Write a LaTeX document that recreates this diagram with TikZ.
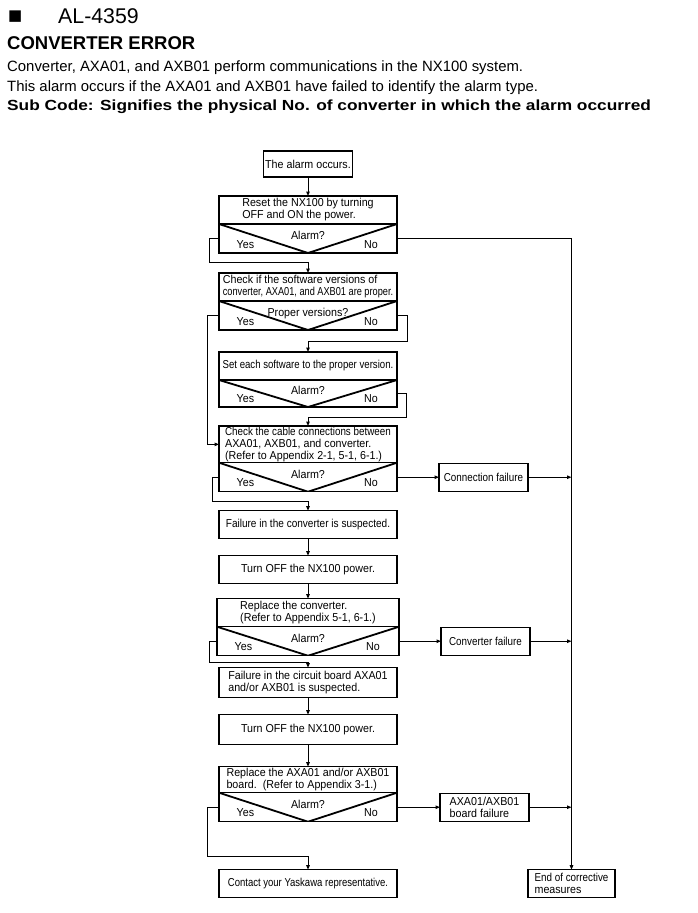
\documentclass[tikz,border=0pt]{standalone}
\usepackage{fontspec}
\usepackage{graphicx}
\setmainfont{Liberation Sans}
\newfontfamily\flowfont[FakeStretch=0.93]{Liberation Sans}
\newfontfamily\widefont[FakeStretch=1.18]{Liberation Sans}
\newfontfamily\symfont{DejaVu Sans}
\usetikzlibrary{arrows.meta, positioning}
\newcommand{\flowsize}{\flowfont\fontsize{11.5}{12}\selectfont}
\newcommand{\squeeze}[2]{\scalebox{#1}[1]{#2}}

\begin{document}
\begin{tikzpicture}[x=1pt, y=-1pt, node distance=19pt]
    % Styles
    \tikzstyle{stepbox} = [rectangle, draw=black, line width=1.1pt, outer sep=0pt, minimum width=178pt, minimum height=28pt, inner xsep=1.5pt, inner ysep=1pt, align=left, font=\flowsize]
    \tikzstyle{yesno} = [font=\flowsize, inner sep=0pt]
    \tikzstyle{query} = [stepbox, minimum height=29pt, text depth=6pt,
        path picture={\draw[line width=1.8pt] (path picture bounding box.north west) -- (path picture bounding box.south) -- (path picture bounding box.north east);},
        label={[yesno, anchor=base west, xshift=17.5pt, yshift=5pt]south west:Yes},
        label={[yesno, anchor=base east, xshift=-19pt, yshift=5pt]south east:No}]
    \tikzstyle{sidebox} = [rectangle, draw=black, line width=1.1pt, outer sep=0pt, minimum width=89pt, minimum height=28pt, inner xsep=2pt, inner ysep=1pt, align=left, font=\flowsize]
    \tikzstyle{headline} = [anchor=base west, inner sep=0pt]
    \tikzstyle{arrow} = [line width=1pt, ->, >={Triangle[length=4.5pt, width=3.5pt]}]

    \useasboundingbox (0,0) rectangle (697,913);

    % Header
    \node (bullet) [headline, font=\symfont\fontsize{15}{15}\selectfont] at (8,20) {■};
    \node (alarmno) [headline, font=\fontsize{21.3}{24}\selectfont] at (58,23) {AL-4359};
    \node (title) [headline, font=\bfseries\fontsize{18.5}{20}\selectfont] at (7,49.5) {CONVERTER ERROR};
    \node (desc1) [headline, font=\fontsize{14.9}{16}\selectfont] at (7,71) {Converter, AXA01, and AXB01 perform communications in the NX100 system.};
    \node (desc2) [headline, font=\fontsize{14.9}{16}\selectfont] at (7,91) {This alarm occurs if the AXA01 and AXB01 have failed to identify the alarm type.};
    \node (subcode) [headline, font=\widefont\bfseries\fontsize{14.67}{16}\selectfont] at (7,110.5) {Sub Code: Signifies the physical No. of converter in which the alarm occurred};

    % Nodes
    \node (start) [stepbox, minimum width=88pt, minimum height=26pt] at (308,164) {The alarm occurs.};
    \node (reset) [stepbox, below=of start] {Reset the NX100 by turning\\OFF and ON the power.};
    \node (resetq) [query, below=0pt of reset] {Alarm?};
    \node (checksw) [stepbox, below=20pt of resetq] {Check if the software versions of\\\squeeze{0.86}{converter, AXA01, and AXB01 are proper.}};
    \node (checkswq) [query, below=0pt of checksw] {Proper versions?};
    \node (set) [stepbox, below=22pt of checkswq] {\squeeze{0.9}{Set each software to the proper version.}};
    \node (setq) [query, minimum height=27pt, below=0pt of set] {Alarm?};
    \node (cable) [stepbox, below=19pt of setq] {\squeeze{0.92}{Check the cable connections between}\\AXA01, AXB01, and converter.\\(Refer to Appendix 2-1, 5-1, 6-1.)};
    \node (cableq) [query, below=0pt of cable] {Alarm?};
    \node (failconv) [stepbox, below=of cableq] {\squeeze{0.94}{Failure in the converter is suspected.}};
    \node (turnoff) [stepbox, below=17pt of failconv] {Turn OFF the NX100 power.};
    \node (replconv) [stepbox, minimum width=182pt, below=15pt of turnoff] {Replace the converter.\\(Refer to Appendix 5-1, 6-1.)};
    \node (replconvq) [query, minimum width=182pt, below=0pt of replconv] {Alarm?};
    \node (failboard) [stepbox, minimum height=30pt, below=12pt of replconvq] {Failure in the circuit board AXA01\\and/or AXB01 is suspected.};
    \node (turnoff2) [stepbox, minimum height=30pt, below=17pt of failboard] {Turn OFF the NX100 power.};
    \node (replboard) [stepbox, minimum height=26pt, below=22pt of turnoff2] {Replace the AXA01 and/or AXB01\\board.\ \ (Refer to Appendix 3-1.)};
    \node (replboardq) [query, below=0pt of replboard] {Alarm?};
    \node (contact) [stepbox, below=48pt of replboardq] {\squeeze{0.89}{Contact your Yaskawa representative.}};

    \node (connfail) [sidebox, right=42pt of cableq] {\squeeze{0.92}{Connection failure}};
    \node (convfail) [sidebox, right=42pt of replconvq] {\squeeze{0.92}{Converter failure}};
    \node (boardfail) [sidebox, right=43pt of replboardq] {AXA01/AXB01\\board failure};
    \node (endbox) [sidebox, minimum width=87pt, right=131pt of contact] {\squeeze{0.92}{End of corrective}\\measures};

    % Arrows
    \draw [arrow] (start) -- (reset);
    \draw [arrow] (resetq.west) -- ++(-10pt,0) |- ([yshift=11pt]checksw.north) -- (checksw.north);
    \draw [arrow] (resetq.east) -| (endbox.north);
    \draw [arrow] (checkswq.west) -- ++(-12pt,0) |- (cable.west);
    \draw [arrow] (checkswq.east) -- ++(10pt,0) |- ([yshift=11pt]set.north) -- (set.north);
    \draw [arrow] (setq.east) -- ++(9pt,0) |- ([yshift=9pt]cable.north) -- (cable.north);
    \draw [arrow] (cableq.west) -- ++(-7pt,0) |- ([yshift=9pt]failconv.north) -- (failconv.north);
    \draw [arrow] (cableq.east) -- (connfail.west);
    \draw [arrow] (connfail.east) -- (connfail.east -| endbox.north);
    \draw [arrow] (failconv) -- (turnoff);
    \draw [arrow] (turnoff) -- (replconv);
    \draw [arrow] (replconvq.west) -- ++(-8pt,0) |- ([yshift=5pt]failboard.north) -- (failboard.north);
    \draw [arrow] (replconvq.east) -- (convfail.west);
    \draw [arrow] (convfail.east) -- (convfail.east -| endbox.north);
    \draw [arrow] (failboard) -- (turnoff2);
    \draw [arrow] (turnoff2) -- (replboard);
    \draw [arrow] (replboardq.west) -- ++(-12pt,0) |- ([yshift=13pt]contact.north) -- (contact.north);
    \draw [arrow] (replboardq.east) -- (boardfail.west);
    \draw [arrow] (boardfail.east) -- (boardfail.east -| endbox.north);
\end{tikzpicture}
\end{document}
